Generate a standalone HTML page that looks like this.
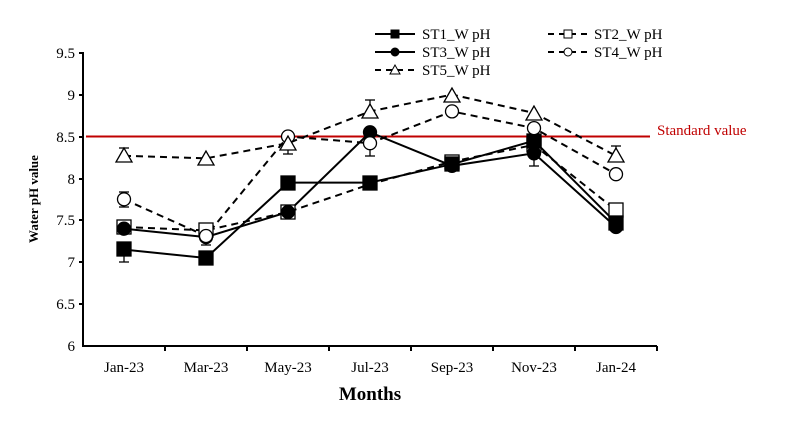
<!DOCTYPE html>
<html><head><meta charset="utf-8"><style>body{margin:0;background:#fff}svg{display:block}</style></head>
<body>
<svg width="794" height="422" xmlns="http://www.w3.org/2000/svg" font-family="Liberation Serif, serif">
<rect width="794" height="422" fill="#fff"/>
<!-- axes -->
<g stroke="#000" stroke-width="2">
<line x1="83" y1="52" x2="83" y2="347"/>
<line x1="82" y1="346" x2="657" y2="346"/>
<line x1="79" y1="53" x2="83" y2="53"/><line x1="79" y1="95" x2="83" y2="95"/><line x1="79" y1="137" x2="83" y2="137"/><line x1="79" y1="179" x2="83" y2="179"/><line x1="79" y1="220" x2="83" y2="220"/><line x1="79" y1="262" x2="83" y2="262"/><line x1="79" y1="304" x2="83" y2="304"/>
<line x1="165" y1="346" x2="165" y2="351"/><line x1="247" y1="346" x2="247" y2="351"/><line x1="329" y1="346" x2="329" y2="351"/><line x1="411" y1="346" x2="411" y2="351"/><line x1="493" y1="346" x2="493" y2="351"/><line x1="575" y1="346" x2="575" y2="351"/><line x1="657" y1="346" x2="657" y2="351"/>
</g>
<g font-size="15" text-anchor="end" fill="#000">
<text x="75" y="58">9.5</text><text x="75" y="100">9</text><text x="75" y="142">8.5</text><text x="75" y="184">8</text><text x="75" y="225">7.5</text><text x="75" y="267">7</text><text x="75" y="309">6.5</text><text x="75" y="351">6</text>
</g>
<g font-size="15" text-anchor="middle">
<text x="124" y="372">Jan-23</text><text x="206" y="372">Mar-23</text><text x="288" y="372">May-23</text><text x="370" y="372">Jul-23</text><text x="452" y="372">Sep-23</text><text x="534" y="372">Nov-23</text><text x="616" y="372">Jan-24</text>
</g>
<text x="370" y="400" font-size="19" font-weight="bold" text-anchor="middle">Months</text>
<text transform="translate(38,199) rotate(-90)" font-size="13" font-weight="bold" text-anchor="middle">Water pH value</text>
<!-- standard line -->
<line x1="86" y1="136.5" x2="650" y2="136.5" stroke="#c00000" stroke-width="2"/>
<text x="657" y="135" font-size="15" fill="#c00000">Standard value</text>
<!-- error bars -->
<g stroke="#000" stroke-width="1.3">
<line x1="124" y1="249" x2="124" y2="262"/><line x1="119" y1="262" x2="129" y2="262"/>
<line x1="124" y1="192" x2="124" y2="207"/><line x1="119" y1="192" x2="129" y2="192"/><line x1="119" y1="207" x2="129" y2="207"/>
<line x1="124" y1="148" x2="124" y2="156"/><line x1="119" y1="148" x2="129" y2="148"/>
<line x1="206" y1="237" x2="206" y2="245"/><line x1="201" y1="245" x2="211" y2="245"/>
<line x1="288" y1="143" x2="288" y2="154"/><line x1="283" y1="154" x2="293" y2="154"/>
<line x1="370" y1="100" x2="370" y2="112"/><line x1="365" y1="100" x2="375" y2="100"/>
<line x1="370" y1="143" x2="370" y2="156"/><line x1="365" y1="156" x2="375" y2="156"/>
<line x1="534" y1="153" x2="534" y2="166"/><line x1="529" y1="166" x2="539" y2="166"/>
<line x1="616" y1="146" x2="616" y2="155"/><line x1="611" y1="146" x2="621" y2="146"/>
</g>
<!-- lines -->
<g fill="none" stroke="#000" stroke-width="2">
<polyline points="124,249.6 206,258 288,182.6 370,182.6 452,164.2 534,140.7 616,222.8"/>
<polyline stroke-dasharray="7,5" points="124,227 206,230.4 288,212 370,184.3 452,161.6 534,144.9 616,210.2"/>
<polyline points="124,228.7 206,237.1 288,212 370,132.3 452,165.8 534,153.3 616,227"/>
<polyline stroke-dasharray="7,5" points="124,199.3 206,236 288,136.5 370,143.2 452,111.4 534,128.1 616,174.2"/>
<polyline stroke-dasharray="7,5" points="124,155.8 206,158.3 288,143.2 370,111.4 452,94.6 534,113 616,155.8"/>
</g>
<!-- markers -->
<g stroke="#000" stroke-width="1.3">
<g fill="#fff">
<rect x="117" y="220" width="14" height="14"/><rect x="199" y="223" width="14" height="14"/><rect x="281" y="205" width="14" height="14"/><rect x="445" y="155" width="14" height="14"/><rect x="527" y="138" width="14" height="14"/><rect x="609" y="203" width="14" height="14"/>
</g>
<g fill="#000">
<rect x="117" y="242" width="14" height="14"/><rect x="199" y="251" width="14" height="14"/><rect x="281" y="176" width="14" height="14"/><rect x="363" y="176" width="14" height="14"/><rect x="445" y="157" width="14" height="14"/><rect x="527" y="134" width="14" height="14"/><rect x="609" y="216" width="14" height="14"/>
<circle cx="124" cy="228.7" r="6.5"/><circle cx="206" cy="237.1" r="6.5"/><circle cx="288" cy="212" r="6.5"/><circle cx="370" cy="132.3" r="6.5"/><circle cx="452" cy="165.8" r="6.5"/><circle cx="534" cy="153.3" r="6.5"/><circle cx="616" cy="227" r="6.5"/>
</g>
<g fill="#fff">
<circle cx="124" cy="199.3" r="6.5"/><circle cx="206" cy="236" r="6.5"/><circle cx="288" cy="136.5" r="6.5"/><circle cx="370" cy="143.2" r="6.5"/><circle cx="452" cy="111.4" r="6.5"/><circle cx="534" cy="128.1" r="6.5"/><circle cx="616" cy="174.2" r="6.5"/>
<polygon points="124,148 116,162 132,162"/><polygon points="206,151 198,165 214,165"/><polygon points="288,136 280,150 296,150"/><polygon points="370,104 362,118 378,118"/><polygon points="452,88 444,102 460,102"/><polygon points="534,106 526,120 542,120"/><polygon points="616,148 608,162 624,162"/>
</g>
</g>
<!-- legend -->
<g stroke="#000" stroke-width="2">
<line x1="375" y1="34" x2="415" y2="34"/><line x1="375" y1="52" x2="415" y2="52"/><line x1="375" y1="70" x2="415" y2="70" stroke-dasharray="6,5"/>
<line x1="548" y1="34" x2="588" y2="34" stroke-dasharray="6,5"/><line x1="548" y1="52" x2="588" y2="52" stroke-dasharray="6,5"/>
</g>
<g stroke="#000" stroke-width="1">
<rect x="391" y="30" width="8" height="8" fill="#000"/><circle cx="395" cy="52" r="4" fill="#000"/><polygon points="395,65 390,74 400,74" fill="#fff"/>
<rect x="564" y="30" width="8" height="8" fill="#fff"/><circle cx="568" cy="52" r="4" fill="#fff"/>
</g>
<g font-size="15">
<text x="422" y="39">ST1_W pH</text><text x="422" y="57">ST3_W pH</text><text x="422" y="75">ST5_W pH</text>
<text x="594" y="39">ST2_W pH</text><text x="594" y="57">ST4_W pH</text>
</g>
</svg>
</body></html>
